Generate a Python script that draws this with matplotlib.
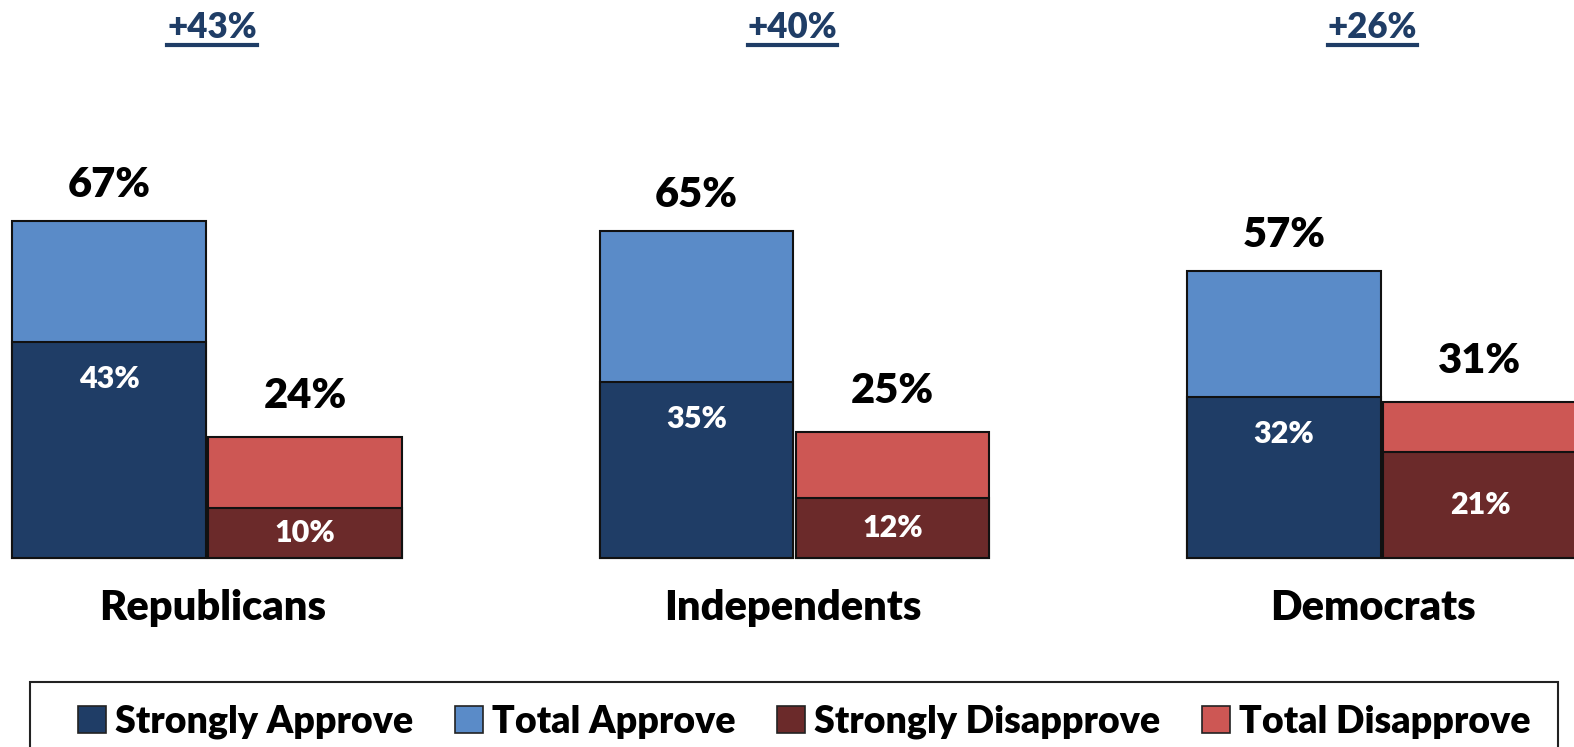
import matplotlib.pyplot as plt
from matplotlib.patches import Rectangle, Patch
from matplotlib.lines import Line2D

plt.rcParams['font.family'] = ['Lato', 'DejaVu Sans']
plt.rcParams['font.weight'] = 'heavy'

groups = ["Republicans", "Independents", "Democrats"]
strongly_approve = [43, 35, 32]
total_approve = [67, 65, 57]
strongly_disapprove = [10, 12, 21]
total_disapprove = [24, 25, 31]
net = ["+43%", "+40%", "+26%"]

c_sa = "#1f3d66"
c_ta = "#5a8bc8"
c_sd = "#6b2a2a"
c_td = "#cd5754"

fig = plt.figure(figsize=(15.74, 7.47), dpi=100)
ax = fig.add_axes([0, 0, 1, 1])
ax.set_xlim(-0.3523, 2.3268)
ax.set_ylim(-37.57, 110.93)
ax.axis("off")

w = 0.330
off = 0.1668
x = list(range(len(groups)))
xa = [i - off for i in x]
xd = [i + off for i in x]
# group labels sit a little tighter than the bars
xl = [i + 0.009 - 0.0125 * i for i in x]

edge = dict(edgecolor="#111111", linewidth=1.5)
ax.bar(xa, total_approve, w, color=c_ta, **edge)
ax.bar(xa, strongly_approve, w, color=c_sa, **edge)
ax.bar(xd, total_disapprove, w, color=c_td, **edge)
ax.bar(xd, strongly_disapprove, w, color=c_sd, **edge)

for i in x:
    ax.text(xa[i], total_approve[i] + 7.2, f"{total_approve[i]}%", ha="center", va="center",
            fontsize=30, color="black")
    ax.text(xd[i], total_disapprove[i] + 8.2, f"{total_disapprove[i]}%", ha="center", va="center",
            fontsize=30, color="black")
    ax.text(xa[i], strongly_approve[i] - 7.4, f"{strongly_approve[i]}%", ha="center", va="center",
            fontsize=22, color="white")
    ax.text(xd[i], strongly_disapprove[i] / 2, f"{strongly_disapprove[i]}%", ha="center", va="center",
            fontsize=22, color="white")
    ax.text(xl[i], -10.0, groups[i], ha="center", va="center", fontsize=30, color="black")

# net difference labels, underlined
net_texts = []
for i in x:
    t = ax.text(xl[i], 105.4, net[i], ha="center", va="center", fontsize=25, color="#1f3d66")
    net_texts.append(t)

fig.canvas.draw()
r = fig.canvas.get_renderer()
for t in net_texts:
    bb = t.get_window_extent(renderer=r)
    yl = bb.y0 - 1
    fig.add_artist(Line2D([bb.x0, bb.x1], [yl, yl], transform=None, color="#1f3d66", linewidth=3))

# legend box
fig.add_artist(Rectangle((30 / 1574, -0.05), 1528 / 1574, (747 - 682) / 747 + 0.05,
                         transform=fig.transFigure, facecolor="white", edgecolor="#222222",
                         linewidth=1.5))
handles = [Patch(facecolor=c, edgecolor="#222222", linewidth=1.2)
           for c in [c_sa, c_ta, c_sd, c_td]]
labels = ["Strongly Approve", "Total Approve", "Strongly Disapprove", "Total Disapprove"]
fig.legend(handles, labels, loc="center", bbox_to_anchor=(0.511, (747 - 722) / 747), ncol=4,
           frameon=False, fontsize=27, handlelength=0.75, handleheight=0.75, handletextpad=0.25,
           columnspacing=1.1)

fig.savefig("out.png", dpi=100)
